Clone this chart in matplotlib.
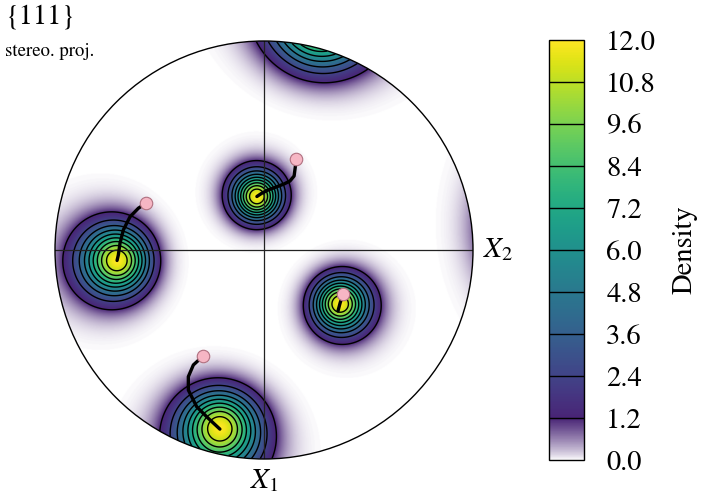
import numpy as np
import matplotlib
matplotlib.use("Agg")
import matplotlib.pyplot as plt
from matplotlib.colors import ListedColormap, Normalize
from matplotlib.patches import Circle
import matplotlib.cm as cm

plt.rcParams['font.family'] = ['STIXGeneral', 'DejaVu Serif']
plt.rcParams['mathtext.fontset'] = 'stix'

# ---- data (stereographic projection coordinates, unit circle) ----
pole_x = [-0.034, -0.703, 0.364, -0.211]
pole_y = [0.256, -0.050, -0.258, -0.854]
peak_density = 12.0
spread_rad = 0.143

traj1_x = [0.152, 0.151, 0.144, 0.124, 0.096, 0.057, 0.019, -0.010, -0.034]
traj1_y = [0.434, 0.407, 0.354, 0.330, 0.316, 0.301, 0.287, 0.272, 0.256]
traj2_x = [-0.565, -0.601, -0.641, -0.673, -0.689, -0.697, -0.703]
traj2_y = [0.223, 0.200, 0.159, 0.096, 0.032, -0.024, -0.050]
traj3_x = [-0.290, -0.338, -0.362, -0.362, -0.322, -0.267, -0.211]
traj3_y = [-0.506, -0.550, -0.606, -0.670, -0.750, -0.805, -0.857]
traj4_x = [0.378, 0.364, 0.354]
traj4_y = [-0.211, -0.254, -0.292]

levels = np.round(np.linspace(0.0, 12.0, 11), 1)
tick_labels = [f"{v:.1f}" for v in levels]

# ---- colormap: white -> viridis below first level, viridis above ----
vir = matplotlib.colormaps['viridis']
N = 1000
f = np.linspace(0, 1, N)
cols = vir(f)
low = f < 0.1
m = (f[low] / 0.1) ** 0.8
c01 = np.array(vir(0.1))
cols[low, :3] = (1 - m)[:, None] * 1.0 + m[:, None] * c01[None, :3]
cmap = ListedColormap(cols)
norm = Normalize(0, 12)

# ---- density field on the sphere (antipodally symmetric kernel) ----
def to_vec(x, y):
    x = np.asarray(x, float); y = np.asarray(y, float)
    r2 = x**2 + y**2
    return np.stack([2*x/(1+r2), 2*y/(1+r2), (1-r2)/(1+r2)], axis=-1)

n = 700
g = np.linspace(-1, 1, n)
GX, GY = np.meshgrid(g, g)
V = to_vec(GX, GY)
P = to_vec(pole_x, pole_y)
dens = np.zeros_like(GX)
for p in P:
    c = np.clip(np.abs(V @ p), -1, 1)
    a = np.arccos(c)
    dens += peak_density * np.exp(-a**2 / (2 * spread_rad**2))
dens = np.minimum(dens, 11.99)
inside = GX**2 + GY**2 <= 1.0

# ---- figure ----
fig = plt.figure(figsize=(7.05, 5.0), dpi=100)
cx, cy, R = 264, 250, 209
ax = fig.add_axes([(cx - R) / 705, (500 - cy - R) / 500, 2 * R / 705, 2 * R / 500])
ax.set_xlim(-1, 1); ax.set_ylim(-1, 1)
ax.axis('off')

clip = Circle((0, 0), 1.0, transform=ax.transData)
im = ax.imshow(dens, extent=[-1, 1, -1, 1], origin='lower', cmap=cmap, norm=norm,
               interpolation='bilinear', zorder=1)
im.set_clip_path(clip)
cs = ax.contour(GX, GY, np.where(inside, dens, np.nan), levels=levels[1:-1],
                colors='black', linewidths=1.0, zorder=2)
cs.set_clip_path(clip)

ax.plot([-1, 1], [0, 0], color='#222222', lw=0.9, zorder=3)
ax.plot([0, 0], [-1, 1], color='#222222', lw=0.9, zorder=3)
ax.add_patch(Circle((0, 0), 1.0, fill=False, ec='black', lw=1.0, zorder=4, clip_on=False))

for tx, ty in [(traj1_x, traj1_y), (traj2_x, traj2_y), (traj3_x, traj3_y), (traj4_x, traj4_y)]:
    ax.plot(tx, ty, color='black', lw=2.4, solid_capstyle='round', solid_joinstyle='round', zorder=5)
    ax.plot(tx[0], ty[0], 'o', ms=9, mfc='#f6b6c4', mec='#b07080', mew=0.8, zorder=6)

ax.text(1.05, 0.0, r'$X_2$', fontsize=21, ha='left', va='center', clip_on=False)
ax.text(0.0, -1.04, r'$X_1$', fontsize=21, ha='center', va='top', clip_on=False)

fig.text(5 / 705, 1 - 4 / 500, '{111}', fontsize=20.5, ha='left', va='top')
fig.text(5 / 705, 1 - 43 / 500, 'stereo. proj.', fontsize=13.5, ha='left', va='top')

# ---- colorbar ----
cax = fig.add_axes([549 / 705, 40 / 500, 35 / 705, 420 / 500])
sm = cm.ScalarMappable(norm=norm, cmap=cmap)
cb = fig.colorbar(sm, cax=cax, ticks=levels)
cb.ax.set_yticklabels(tick_labels)
cb.ax.tick_params(length=0, pad=16, labelsize=20.5)
for lv in levels[1:-1]:
    cax.axhline(lv, color='black', lw=1.0)
cb.outline.set_linewidth(1.0)
cb.set_label('Density', fontsize=20.5, labelpad=12)

fig.savefig('out.png', dpi=100)
